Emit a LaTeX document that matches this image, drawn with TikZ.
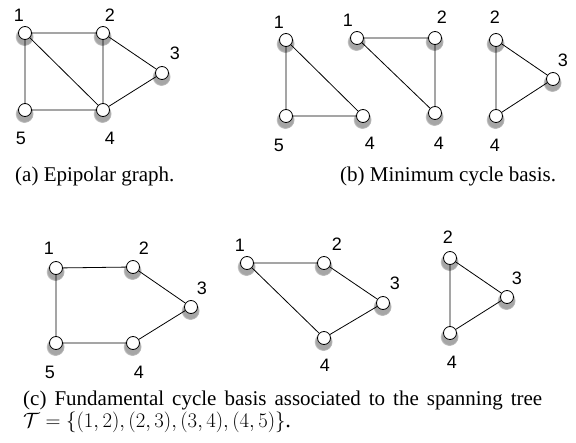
\documentclass[tikz,border=0pt]{standalone}
\usepackage{fontspec}
\setmainfont{Liberation Serif}
\newfontfamily\labfont{Liberation Sans}
\usetikzlibrary{shadows}
\begin{document}
\begin{tikzpicture}[x=1pt,y=-1pt,
  vtx/.style={circle,draw=black,fill=white,line width=0.8pt,minimum size=13pt,inner sep=0pt,
    circular drop shadow={shadow xshift=-0.5pt,shadow yshift=-2.5pt,shadow scale=1.45,opacity=0.7}},
  lab/.style={font=\labfont\fontsize{18}{21}\selectfont,inner sep=0pt},
  edge/.style={line width=0.8pt},
  captxt/.style={font=\fontsize{21}{24}\selectfont,inner sep=0pt,anchor=base west}]
\useasboundingbox (0,0) rectangle (576,443);
% (a)
\node[vtx] (a1) at (25,33) {};
\node[vtx] (a2) at (103,33) {};
\node[vtx] (a3) at (162,73) {};
\node[vtx] (a4) at (103,110) {};
\node[vtx] (a5) at (25,110) {};
\draw[edge] (a1)--(a2) (a2)--(a3) (a3)--(a4) (a4)--(a5) (a5)--(a1) (a1)--(a4) (a2)--(a4);
\node[lab] (la1) at (19,15) {1};
\node[lab] (la2) at (110,15) {2};
\node[lab] (la3) at (175,53) {3};
\node[lab] (la4) at (110,138) {4};
\node[lab] (la5) at (21,138) {5};
\node[captxt] (capa) at (15,182) {(a) Epipolar graph.};
% (b) triangle 1
\node[vtx] (b1) at (286,40) {};
\node[vtx] (b5) at (286,116) {};
\node[vtx] (b4) at (363,116) {};
\draw[edge] (b1)--(b5) (b5)--(b4) (b4)--(b1);
\node[lab] (lb1) at (279,22) {1};
\node[lab] (lb5) at (279,145) {5};
\node[lab] (lb4) at (370,143) {4};
% (b) triangle 2
\node[vtx] (c1) at (357,38) {};
\node[vtx] (c2) at (435,38) {};
\node[vtx] (c4) at (435,113) {};
\draw[edge] (c1)--(c2) (c2)--(c4) (c4)--(c1);
\node[lab] (lc1) at (348,20) {1};
\node[lab] (lc2) at (442,17) {2};
\node[lab] (lc4) at (439,143) {4};
% (b) triangle 3
\node[vtx] (d2) at (496,40) {};
\node[vtx] (d3) at (553,79) {};
\node[vtx] (d4) at (496,116) {};
\draw[edge] (d2)--(d3) (d3)--(d4) (d4)--(d2);
\node[lab] (ld2) at (495,17) {2};
\node[lab] (ld3) at (563,60) {3};
\node[lab] (ld4) at (495,145) {4};
\node[captxt] (capb) at (340,182) {(b) Minimum cycle basis.};
% (c) pentagon
\node[vtx] (e1) at (56,268) {};
\node[vtx] (e2) at (133,267) {};
\node[vtx] (e3) at (191,307) {};
\node[vtx] (e4) at (133,343) {};
\node[vtx] (e5) at (56,343) {};
\draw[edge] (e1)--(e2) (e2)--(e3) (e3)--(e4) (e4)--(e5) (e5)--(e1);
\node[lab] (le1) at (49,248) {1};
\node[lab] (le2) at (144,248) {2};
\node[lab] (le3) at (202,288) {3};
\node[lab] (le4) at (139,372) {4};
\node[lab] (le5) at (50,372) {5};
% (c) quadrilateral
\node[vtx] (f1) at (247,263) {};
\node[vtx] (f2) at (324,263) {};
\node[vtx] (f3) at (383,303) {};
\node[vtx] (f4) at (324,338) {};
\draw[edge] (f1)--(f2) (f2)--(f3) (f3)--(f4) (f4)--(f1);
\node[lab] (lf1) at (240,245) {1};
\node[lab] (lf2) at (337,244) {2};
\node[lab] (lf3) at (395,283) {3};
\node[lab] (lf4) at (325,365) {4};
% (c) triangle
\node[vtx] (g2) at (450,258) {};
\node[vtx] (g3) at (507,297) {};
\node[vtx] (g4) at (450,333) {};
\draw[edge] (g2)--(g3) (g3)--(g4) (g4)--(g2);
\node[lab] (lg2) at (448,237) {2};
\node[lab] (lg3) at (517,278) {3};
\node[lab] (lg4) at (452,362) {4};
\node[captxt] (capc1) at (23,406) {\makebox[519pt][s]{(c) Fundamental cycle basis associated to the spanning tree}};
\node[captxt,font=\fontsize{22.5}{26}\selectfont] (capc2) at (23,428) {$\mathcal{T}=\{(1,2),(2,3),(3,4),(4,5)\}$.};
\end{tikzpicture}
\end{document}
